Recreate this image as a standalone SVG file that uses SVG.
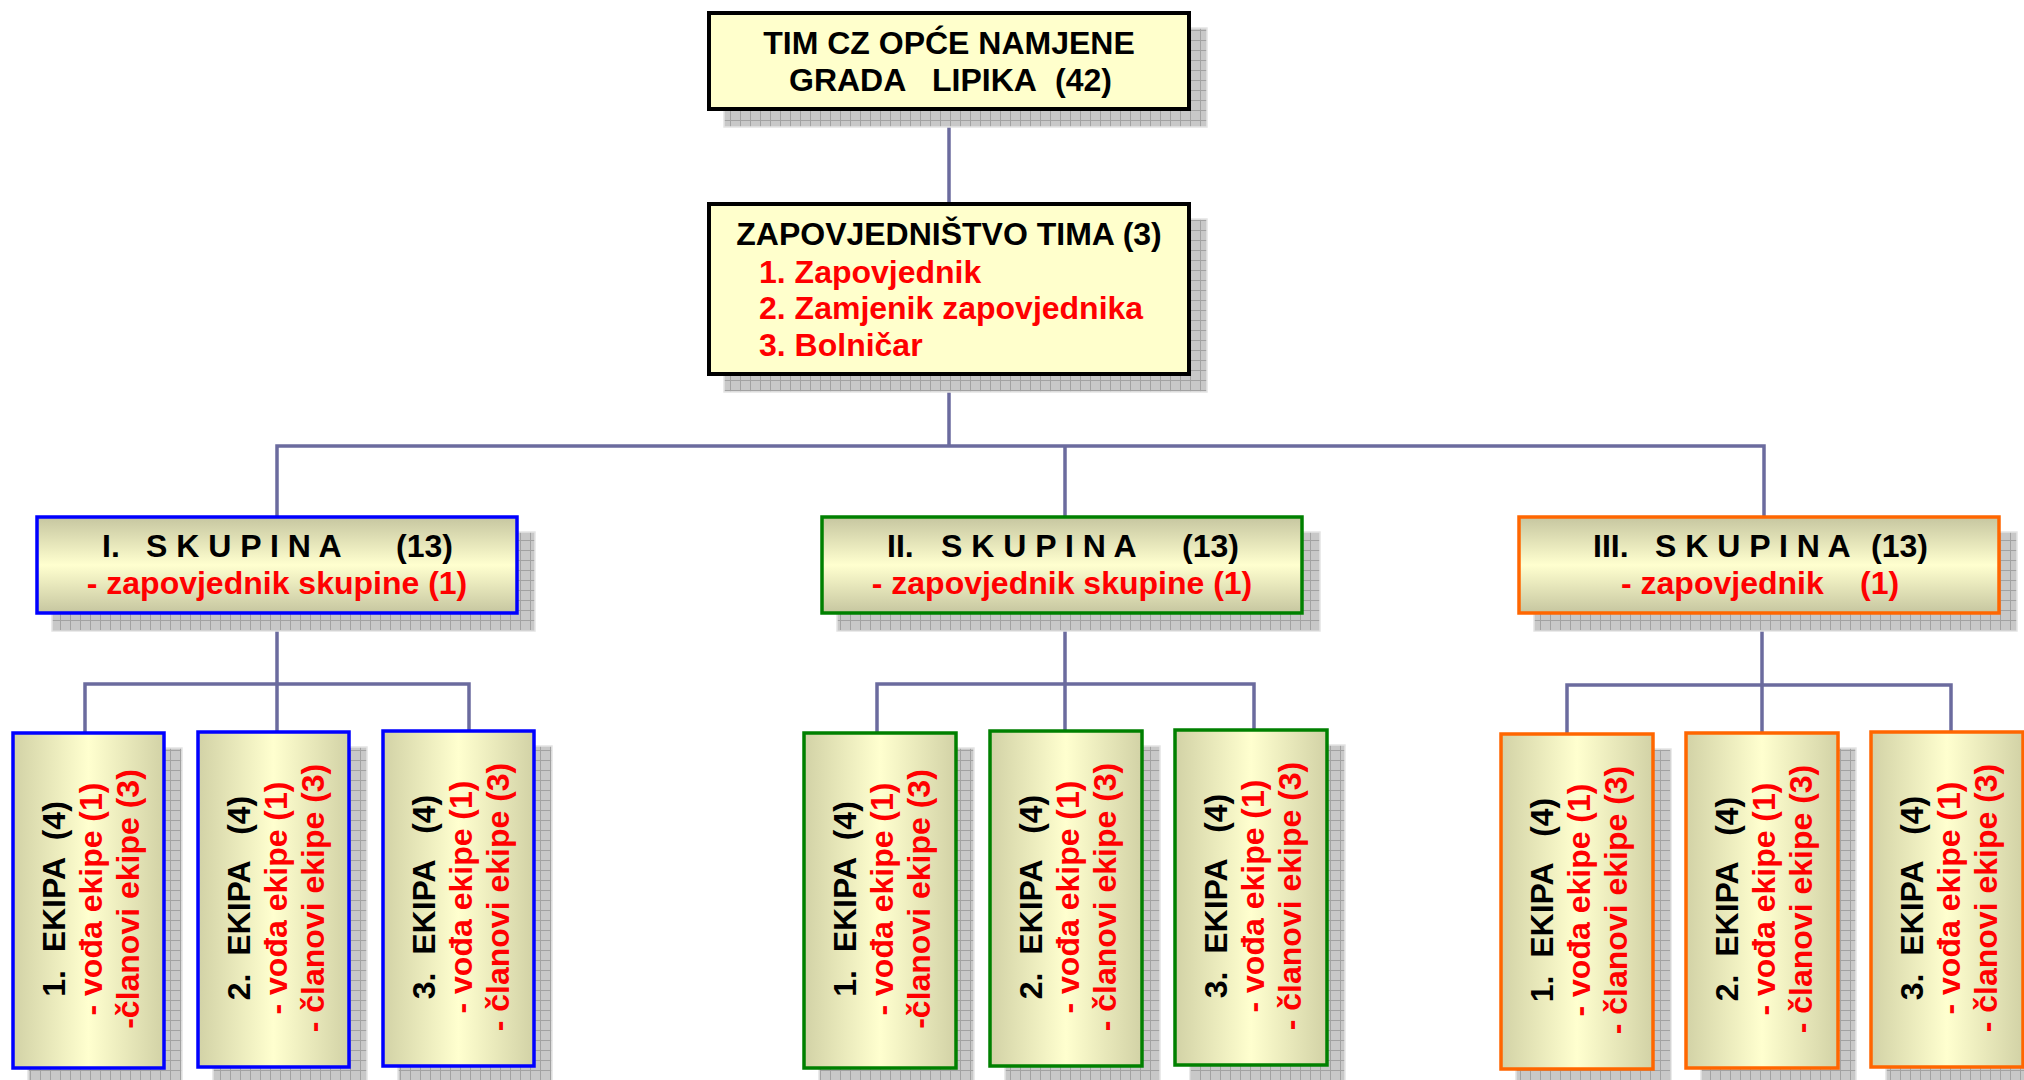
<svg xmlns="http://www.w3.org/2000/svg" width="2024" height="1080" viewBox="0 0 2024 1080">
<style>
.t{font-family:'Liberation Sans',Arial,Helvetica,sans-serif;font-weight:bold;font-size:32px}
.k{fill:#000}
.r{fill:#ff0000}
.c{stroke:#6b6b9e;stroke-width:3.5;fill:none;stroke-linecap:square}
.sh{fill:url(#grid);stroke:#e4e4e4;stroke-width:1.5}
.top{fill:#ffffcc;stroke:#000;stroke-width:4}
.b{stroke:#0000ff;stroke-width:3.5}
.g{stroke:#008000;stroke-width:3.5}
.o{stroke:#ff6600;stroke-width:3.5}
.hv{fill:url(#gv)}
.hh{fill:url(#gh)}
</style>
<defs>
<pattern id="grid" width="10" height="10" patternUnits="userSpaceOnUse">
<rect width="10" height="10" fill="#c8c8c8"/>
<path d="M0 0.5H10M0.5 0V10" stroke="#a2a2a2" stroke-width="1"/>
</pattern>
<linearGradient id="gv" x1="0" y1="0" x2="0" y2="1">
<stop offset="0" stop-color="#c6c6a0"/>
<stop offset="0.5" stop-color="#ffffcf"/>
<stop offset="1" stop-color="#c6c6a0"/>
</linearGradient>
<linearGradient id="gh" x1="0" y1="0" x2="1" y2="0">
<stop offset="0" stop-color="#d2d2a6"/>
<stop offset="0.5" stop-color="#ffffcf"/>
<stop offset="1" stop-color="#d2d2a6"/>
</linearGradient>
</defs>
<rect width="2024" height="1080" fill="#ffffff"/>

<g id="connectors">
<path class="c" d="M949 109V204"/>
<path class="c" d="M949 374V446M277 446H1764M277 446V517M1065 446V517M1764 446V517"/>
<path class="c" d="M277 613V684M85 684H469M85 684V733M277 684V732M469 684V731"/>
<path class="c" d="M1065 613V684M877 684H1254M877 684V733M1065 684V731M1254 684V730"/>
<path class="c" d="M1762 613V685M1567 685H1951M1567 685V734M1762 685V733M1951 685V732"/>
</g>

<g id="tim">
<rect class="sh" x="724" y="28" width="483" height="99"/>
<rect class="top" x="709" y="13" width="480" height="96"/>
<text class="t k" x="949" y="54" text-anchor="middle">TIM CZ OPĆE NAMJENE</text>
<text class="t k" y="91"><tspan x="789">GRADA</tspan><tspan x="932">LIPIKA</tspan><tspan x="1055">(42)</tspan></text>
</g>

<g id="zapovjednistvo">
<rect class="sh" x="724" y="219" width="483" height="173"/>
<rect class="top" x="709" y="204" width="480" height="170"/>
<text class="t k" x="949" y="245" text-anchor="middle">ZAPOVJEDNIŠTVO TIMA (3)</text>
<text class="t r" x="759" y="283">1. Zapovjednik</text>
<text class="t r" x="759" y="319">2. Zamjenik zapovjednika</text>
<text class="t r" x="759" y="356">3. Bolničar</text>
</g>

<g id="skupina1">
<rect class="sh" x="52" y="532" width="483" height="99"/>
<rect class="hv b" x="37" y="517" width="480" height="96"/>
<text class="t k" y="557"><tspan x="102">I.</tspan><tspan x="146">S K U P I N A</tspan><tspan x="396">(13)</tspan></text>
<text class="t r" x="277" y="594" text-anchor="middle">- zapovjednik skupine (1)</text>
</g>

<g id="skupina2">
<rect class="sh" x="837" y="532" width="483" height="99"/>
<rect class="hv g" x="822" y="517" width="480" height="96"/>
<text class="t k" y="557"><tspan x="887">II.</tspan><tspan x="941">S K U P I N A</tspan><tspan x="1182">(13)</tspan></text>
<text class="t r" x="1062" y="594" text-anchor="middle">- zapovjednik skupine (1)</text>
</g>

<g id="skupina3">
<rect class="sh" x="1534" y="532" width="483" height="99"/>
<rect class="hv o" x="1519" y="517" width="480" height="96"/>
<text class="t k" y="557"><tspan x="1593">III.</tspan><tspan x="1655">S K U P I N A</tspan><tspan x="1871">(13)</tspan></text>
<text class="t r" y="594"><tspan x="1621">- zapovjednik</tspan><tspan x="1860">(1)</tspan></text>
</g>

<g id="ekipa1-1">
<rect class="sh" x="28" y="748" width="154" height="338"/>
<rect class="hh b" x="13" y="733" width="151" height="335"/>
<g transform="translate(88.5 899) rotate(-90)">
<text class="t k" x="0" y="-24" text-anchor="middle" xml:space="preserve">1.  EKIPA  (4)</text>
<text class="t r" x="0" y="13" text-anchor="middle">- vođa ekipe (1)</text>
<text class="t r" x="0" y="50" text-anchor="middle">-članovi ekipe (3)</text>
</g>
</g>

<g id="ekipa1-2">
<rect class="sh" x="213" y="747" width="154" height="338"/>
<rect class="hh b" x="198" y="732" width="151" height="335"/>
<g transform="translate(273.5 898) rotate(-90)">
<text class="t k" x="0" y="-24" text-anchor="middle" xml:space="preserve">2.  EKIPA   (4)</text>
<text class="t r" x="0" y="13" text-anchor="middle">- vođa ekipe (1)</text>
<text class="t r" x="0" y="50" text-anchor="middle">- članovi ekipe (3)</text>
</g>
</g>

<g id="ekipa1-3">
<rect class="sh" x="398" y="746" width="154" height="338"/>
<rect class="hh b" x="383" y="731" width="151" height="335"/>
<g transform="translate(458.5 897) rotate(-90)">
<text class="t k" x="0" y="-24" text-anchor="middle" xml:space="preserve">3.  EKIPA   (4)</text>
<text class="t r" x="0" y="13" text-anchor="middle">- vođa ekipe (1)</text>
<text class="t r" x="0" y="50" text-anchor="middle">- članovi ekipe (3)</text>
</g>
</g>

<g id="ekipa2-1">
<rect class="sh" x="819" y="748" width="155" height="338"/>
<rect class="hh g" x="804" y="733" width="152" height="335"/>
<g transform="translate(880 899) rotate(-90)">
<text class="t k" x="0" y="-24" text-anchor="middle" xml:space="preserve">1.  EKIPA  (4)</text>
<text class="t r" x="0" y="13" text-anchor="middle">- vođa ekipe (1)</text>
<text class="t r" x="0" y="50" text-anchor="middle">-članovi ekipe (3)</text>
</g>
</g>

<g id="ekipa2-2">
<rect class="sh" x="1005" y="746" width="155" height="338"/>
<rect class="hh g" x="990" y="731" width="152" height="335"/>
<g transform="translate(1066 897) rotate(-90)">
<text class="t k" x="0" y="-24" text-anchor="middle" xml:space="preserve">2.  EKIPA   (4)</text>
<text class="t r" x="0" y="13" text-anchor="middle">- vođa ekipe (1)</text>
<text class="t r" x="0" y="50" text-anchor="middle">- članovi ekipe (3)</text>
</g>
</g>

<g id="ekipa2-3">
<rect class="sh" x="1190" y="745" width="155" height="338"/>
<rect class="hh g" x="1175" y="730" width="152" height="335"/>
<g transform="translate(1251 896) rotate(-90)">
<text class="t k" x="0" y="-24" text-anchor="middle" xml:space="preserve">3.  EKIPA   (4)</text>
<text class="t r" x="0" y="13" text-anchor="middle">- vođa ekipe (1)</text>
<text class="t r" x="0" y="50" text-anchor="middle">- članovi ekipe (3)</text>
</g>
</g>

<g id="ekipa3-1">
<rect class="sh" x="1516" y="749" width="155" height="338"/>
<rect class="hh o" x="1501" y="734" width="152" height="335"/>
<g transform="translate(1577 900) rotate(-90)">
<text class="t k" x="0" y="-24" text-anchor="middle" xml:space="preserve">1.  EKIPA   (4)</text>
<text class="t r" x="0" y="13" text-anchor="middle">- vođa ekipe (1)</text>
<text class="t r" x="0" y="50" text-anchor="middle">- članovi ekipe (3)</text>
</g>
</g>

<g id="ekipa3-2">
<rect class="sh" x="1701" y="748" width="155" height="338"/>
<rect class="hh o" x="1686" y="733" width="152" height="335"/>
<g transform="translate(1762 899) rotate(-90)">
<text class="t k" x="0" y="-24" text-anchor="middle" xml:space="preserve">2.  EKIPA   (4)</text>
<text class="t r" x="0" y="13" text-anchor="middle">- vođa ekipe (1)</text>
<text class="t r" x="0" y="50" text-anchor="middle">- članovi ekipe (3)</text>
</g>
</g>

<g id="ekipa3-3">
<rect class="sh" x="1886" y="747" width="155" height="338"/>
<rect class="hh o" x="1871" y="732" width="152" height="335"/>
<g transform="translate(1947 898) rotate(-90)">
<text class="t k" x="0" y="-24" text-anchor="middle" xml:space="preserve">3.  EKIPA   (4)</text>
<text class="t r" x="0" y="13" text-anchor="middle">- vođa ekipe (1)</text>
<text class="t r" x="0" y="50" text-anchor="middle">- članovi ekipe (3)</text>
</g>
</g>
</svg>
